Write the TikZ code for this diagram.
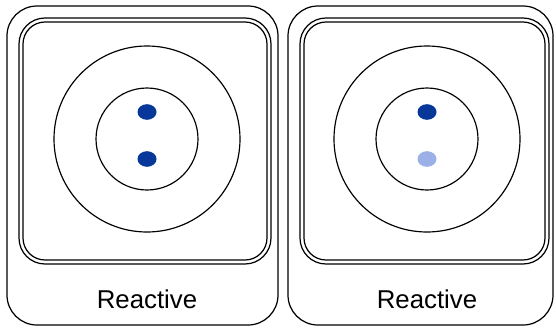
\documentclass[tikz,border=0pt]{standalone}
\usepackage{fontspec}
\setmainfont{Liberation Sans}
\usetikzlibrary{positioning}
\definecolor{DotBlue}{HTML}{063799}
\definecolor{PaleBlue}{HTML}{9AB0E6}

\begin{document}
\begin{tikzpicture}[x=0.03cm,y=-0.03cm,
    cardline/.style={line width=1.05pt},
    ringline/.style={line width=1pt}]
  \useasboundingbox (0,0) rectangle (556,327);
  % two cards: outer left/right, centre, double frame left/right, lower dot
  \foreach \l/\r/\c/\dl/\dr/\low/\n in {
    7/278/147/19/271/DotBlue/1,288/553/427/300/549/PaleBlue/2}{
    \draw[cardline,rounded corners=0.9cm] (\l,6) rectangle (\r,325);
    \draw[cardline,rounded corners=0.78cm] (\dl,18) rectangle (\dr,264);
    \draw[cardline,rounded corners=0.66cm] (\dl+4,22) rectangle (\dr-4,260);
    \draw[ringline] (\c,139) circle [radius=93];
    \draw[ringline] (\c,139) circle [radius=51];
    \fill[DotBlue] (\c,112) ellipse [x radius=9.5,y radius=7.8];
    \fill[\low] (\c,159) ellipse [x radius=9.5,y radius=7.8];
    \node[anchor=base,font=\fontsize{22}{26}\selectfont] (label\n)
      at (\c,308) {Reactive};
  }
\end{tikzpicture}
\end{document}
